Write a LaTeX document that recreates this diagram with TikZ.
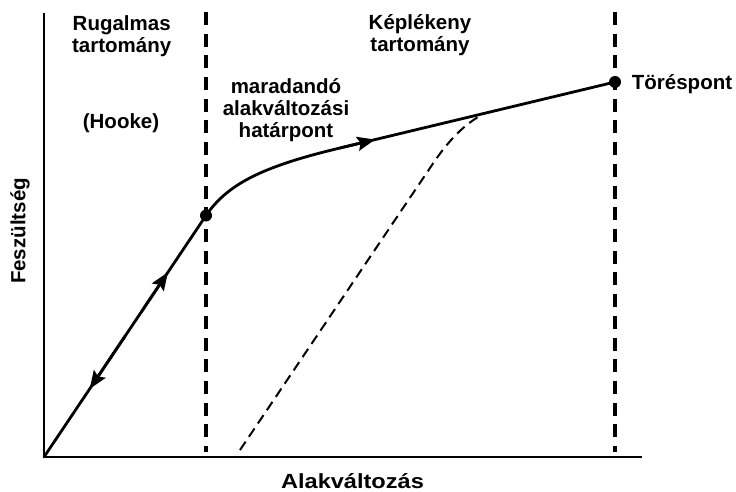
\documentclass[tikz,border=0pt]{standalone}
\usepackage{fontspec}
\setmainfont{Liberation Sans}
\usetikzlibrary{arrows.meta,positioning,calc}

\tikzset{
  lbl/.style={font=\bfseries\fontsize{20.5}{22}\selectfont, align=center, inner sep=0pt},
  axis/.style={line width=2.4pt},
  curve/.style={line width=2.8pt, line join=round, line cap=round},
  loading/.style={line width=2.8pt, -{Stealth[length=18pt, width=14pt, inset=3pt]}},
  limit/.style={line width=4.5pt, dash pattern=on 13pt off 8.7pt},
  unload/.style={line width=2pt, dash pattern=on 10pt off 6pt},
  dot/.style={circle, fill=black, inner sep=0pt, minimum size=12pt},
}

\begin{document}
\begin{tikzpicture}[x=1pt, y=-1pt]
\useasboundingbox (0,0) rectangle (736,492);

% axes
\coordinate (O) at (44,457);
\draw[axis] (44,13) -- (O) -- (642,457);

% range boundaries
\draw[limit] (206,12) -- (206,452);
\draw[limit] (615,12) -- (615,452);

% yield and break points
\node[dot] (yield) at (206,215.5) {};
\node[dot] (break) at (615,82) {};
\coordinate (P) at (340,148);
\coordinate (U) at (485,113.2);

% elastic part
\draw[curve] (O) -- (yield.center);
\draw[loading] ($(O)!0.6!(yield.center)$) -- ($(O)!0.765!(yield.center)$);
\draw[loading] ($(O)!0.5!(yield.center)$) -- ($(O)!0.282!(yield.center)$);

% plastic part
\draw[curve] (yield.center) .. controls (227,185) and (260,167) .. (P) -- (break.center);
\draw[loading] (P) -- ($(P)!0.128!(break.center)$);

% unloading
\draw[unload] (240,450) -- (432,165) .. controls (448,141) and (465,123) .. (U);

% labels
\node[lbl, anchor=base] (elastic) at (121.7,52.7) {Rugalmas\\tartomány};
\node[lbl, anchor=base] (plastic) at (420,51.7) {Képlékeny\\tartomány};
\node[lbl, anchor=base] (hooke) at (121,129) {(Hooke)};
\node[lbl, anchor=base] (limitlbl) at (286,137.3) {maradandó\\alakváltozási\\határpont};
\node[lbl, anchor=base west] (breaklbl) at (631.7,89.3) {Töréspont};
\node[lbl, anchor=base] (xlbl) at (352.5,488) {\scalebox{1.15}[1]{Alakváltozás}};
\node[lbl, rotate=90] (ylbl) at (20,231) {Feszültség};
\end{tikzpicture}
\end{document}
